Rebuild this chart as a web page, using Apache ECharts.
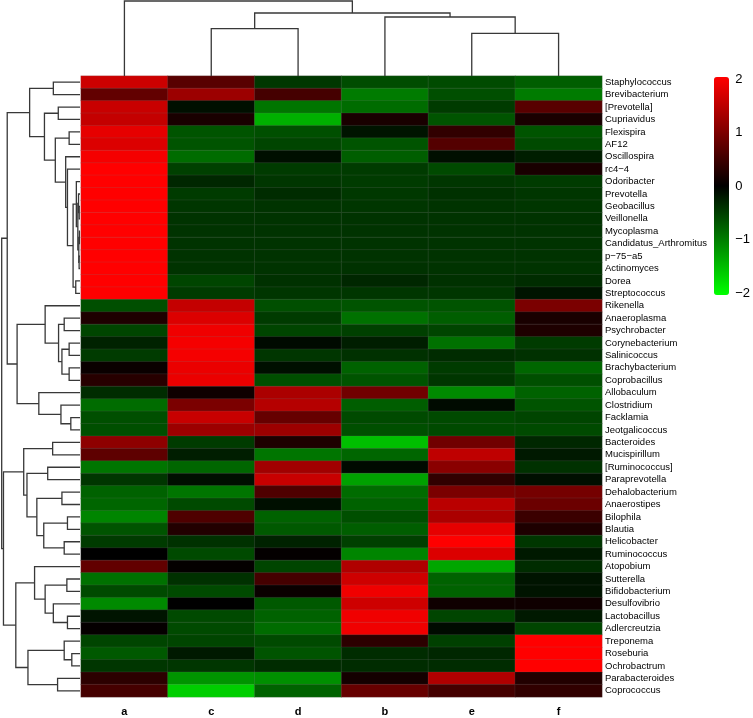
<!DOCTYPE html>
<html><head><meta charset="utf-8">
<script src="https://cdn.jsdelivr.net/npm/echarts@6/dist/echarts.min.js"></script>
<style>html,body{margin:0;padding:0;background:#fff}#c{width:753px;height:718px}</style>
</head><body><div id="c"></div><script>
const rowNames = ['Staphylococcus','Brevibacterium','[Prevotella]','Cupriavidus','Flexispira','AF12','Oscillospira','rc4\u22124','Odoribacter','Prevotella','Geobacillus','Veillonella','Mycoplasma','Candidatus_Arthromitus','p\u221275\u2212a5','Actinomyces','Dorea','Streptococcus','Rikenella','Anaeroplasma','Psychrobacter','Corynebacterium','Salinicoccus','Brachybacterium','Coprobacillus','Allobaculum','Clostridium','Facklamia','Jeotgalicoccus','Bacteroides','Mucispirillum','[Ruminococcus]','Paraprevotella','Dehalobacterium','Anaerostipes','Bilophila','Blautia','Helicobacter','Ruminococcus','Atopobium','Sutterella','Bifidobacterium','Desulfovibrio','Lactobacillus','Adlercreutzia','Treponema','Roseburia','Ochrobactrum','Parabacteroides','Coprococcus'];
const colNames = ['a','c','d','b','e','f'];
const cellValues = [
 [1.63,0.70,-0.44,-0.61,-0.60,-0.75],
 [0.78,1.25,0.55,-0.98,-0.63,-0.98],
 [1.60,-0.12,-0.94,-0.86,-0.47,0.70],
 [1.57,0.20,-1.41,0.20,-0.67,0.20],
 [1.84,-0.67,-0.63,-0.16,0.39,-0.67],
 [1.76,-0.67,-0.55,-0.67,0.67,-0.59],
 [1.96,-0.86,-0.12,-0.75,-0.12,-0.24],
 [2.04,-0.51,-0.47,-0.47,-0.59,0.20],
 [2.04,-0.31,-0.43,-0.47,-0.43,-0.47],
 [2.04,-0.47,-0.35,-0.45,-0.39,-0.43],
 [2.04,-0.43,-0.41,-0.43,-0.41,-0.43],
 [2.04,-0.41,-0.41,-0.41,-0.41,-0.41],
 [2.04,-0.41,-0.41,-0.41,-0.41,-0.41],
 [2.04,-0.41,-0.41,-0.41,-0.41,-0.41],
 [2.04,-0.41,-0.41,-0.41,-0.41,-0.41],
 [2.04,-0.41,-0.41,-0.40,-0.41,-0.41],
 [2.04,-0.55,-0.39,-0.31,-0.39,-0.35],
 [2.04,-0.47,-0.43,-0.43,-0.43,-0.16],
 [-0.63,1.57,-0.63,-0.67,-0.67,0.98],
 [0.24,1.76,-0.47,-0.90,-0.75,0.20],
 [-0.55,1.92,-0.55,-0.51,-0.55,0.24],
 [-0.27,1.96,-0.08,-0.24,-0.90,-0.47],
 [-0.47,1.96,-0.43,-0.39,-0.35,-0.39],
 [0.08,1.88,-0.12,-0.78,-0.47,-0.82],
 [0.31,1.88,-0.63,-0.67,-0.43,-0.63],
 [-0.35,0.12,1.37,0.90,-1.10,-0.78],
 [-0.86,0.98,1.45,-0.75,-0.09,-0.67],
 [-0.63,1.60,0.82,-0.59,-0.59,-0.55],
 [-0.63,1.25,1.25,-0.63,-0.59,-0.59],
 [1.14,-0.47,0.24,-1.53,0.90,-0.31],
 [0.75,-0.24,-0.94,-0.82,1.53,-0.20],
 [-0.94,-0.82,1.29,-0.08,1.10,-0.39],
 [-0.43,-0.12,1.60,-1.29,0.39,-0.12],
 [-0.78,-0.94,0.63,-0.86,0.98,0.94],
 [-0.82,-0.59,-0.12,-0.78,1.49,0.86],
 [-1.06,0.63,-0.78,-0.63,1.37,0.47],
 [-0.67,0.27,-0.71,-0.75,1.84,0.24],
 [-0.47,-0.39,-0.27,-0.51,2.04,-0.43],
 [0.00,-0.59,0.03,-1.06,1.76,-0.20],
 [0.78,0.03,-0.55,1.41,-1.33,-0.35],
 [-0.90,-0.39,0.55,1.65,-0.78,-0.16],
 [-0.59,-0.59,0.08,1.92,-0.78,-0.16],
 [-1.10,0.00,-0.71,1.65,0.12,0.12],
 [-0.16,-0.59,-0.78,1.92,-0.55,-0.20],
 [0.04,-0.59,-0.86,1.92,-0.09,-0.55],
 [-0.55,-0.55,-0.59,0.35,-0.51,2.04],
 [-0.71,-0.20,-0.67,-0.35,-0.31,2.04],
 [-0.43,-0.43,-0.35,-0.35,-0.35,2.04],
 [0.35,-1.18,-1.14,0.16,1.41,0.27],
 [0.55,-1.65,-0.78,0.82,0.55,0.39]
];
const legendTicks = [-2, -1, 0, 1, 2];

// Row clustering tree: node = [left, right, mergeHeight]; leaves = row indices
const treeTop = [[0,1,27],[[2,3,22],[[4,5,11],[6,[7,[[8,[[9,[10,11,0.8],1.5],[[12,13,0.6],[14,15,0.9],1.2],2.2],3.7],[16,17,4.3],7],12.7],14.5],25],36],51];
const treeMid = [[18,[[19,20,16],[[21,22,11],[23,24,11],18.3],21.7],35.3],[25,[26,[27,28,9.3],19.3],41.7],63.7];
const treeP = [[29,30,27.7],[[31,32,32.7],[[33,34,18.3],[[35,36,12.7],[37,38,16],36.7],43.7],53.7],57];
const treeQ = [[39,[[40,41,13.3],[42,[43,44,12.7],27],35.3],46],[[45,[46,47,8.3],16],[48,49,22.7],52.7],65];
const rowTree = [[treeTop, treeMid, 73.7], [treeP, treeQ, 77.5], 79.3];
// Column clustering tree (columns in display order)
const colTree = [0, [[1,2,47.3],[3,[4,5,42.6],59],63], 75];

function walk(node, out) {
  if (typeof node === 'number') return {pos: node + 0.5, h: 0};
  const L = walk(node[0], out), R = walk(node[1], out), h = node[2];
  out.push([L.pos, L.h, R.pos, R.h, h]);
  return {pos: (L.pos + R.pos) / 2, h: h};
}
const rowSegs = []; walk(rowTree, rowSegs);
const colSegs = []; walk(colTree, colSegs);

const heatData = [];
cellValues.forEach((row, r) => row.forEach((v, c) => heatData.push([c, r, v])));

function dendro(orient) {
  return function (params, api) {
    const pl = api.value(0), hl = api.value(1), pr = api.value(2), hr = api.value(3), h = api.value(4);
    const pts = orient === 'left'
      ? [[hl, pl], [h, pl], [h, pr], [hr, pr]]
      : [[pl, hl], [pl, h], [pr, h], [pr, hr]];
    return {type: 'polyline', shape: {points: pts.map(p => api.coord(p))},
      style: {stroke: '#383838', lineWidth: 1.3, fill: null}};
  };
}
const minus = v => (v < 0 ? '\u2212' + (-v) : String(v));
const FONT = 'Liberation Sans, Arial, sans-serif';

const chart = echarts.init(document.getElementById('c'), null, {renderer: 'canvas'});
chart.setOption({
  animation: false,
  backgroundColor: '#fff',
  textStyle: {fontFamily: FONT},
  grid: [
    {left: 81, top: 76, width: 521, height: 621},
    {left: 1, top: 76, width: 79, height: 621},
    {left: 81, top: 0, width: 521, height: 76},
    {left: 729, top: 79, width: 1, height: 214}
  ],
  xAxis: [
    {gridIndex: 0, type: 'category', data: colNames, position: 'bottom',
     axisLine: {show: false}, axisTick: {show: false}, splitLine: {show: false},
     axisLabel: {fontSize: 11, fontWeight: 'bold', color: '#000', margin: 9, fontFamily: FONT}},
    {gridIndex: 1, type: 'value', min: 0, max: 80, inverse: true, show: false},
    {gridIndex: 2, type: 'value', min: 0, max: 6, show: false},
    {gridIndex: 3, type: 'value', min: 0, max: 1, show: false}
  ],
  yAxis: [
    {gridIndex: 0, type: 'category', data: rowNames, inverse: true, position: 'right',
     axisLine: {show: false}, axisTick: {show: false}, splitLine: {show: false},
     axisLabel: {fontSize: 9.5, color: '#000', margin: 3, fontFamily: FONT, interval: 0}},
    {gridIndex: 1, type: 'value', min: 0, max: 50, inverse: true, show: false},
    {gridIndex: 2, type: 'value', min: 0, max: 76, show: false},
    {gridIndex: 3, type: 'value', min: legendTicks[0], max: legendTicks[legendTicks.length - 1], interval: 1,
     position: 'right', axisLine: {show: false}, axisTick: {show: false}, splitLine: {show: false},
     axisLabel: {fontSize: 13, color: '#000', margin: 6, fontFamily: FONT, formatter: minus}}
  ],
  visualMap: {
    type: 'continuous', seriesIndex: 0, min: -2.04, max: 2.04, calculable: false,
    orient: 'vertical', left: 714, top: 77, itemWidth: 15, itemHeight: 218, padding: 0,
    hoverLink: false, text: null, showLabel: false,
    inRange: {color: ['#00ff00', '#000000', '#ff0000']}
  },
  series: [
    {type: 'heatmap', xAxisIndex: 0, yAxisIndex: 0, data: heatData,
     itemStyle: {borderColor: 'rgba(120,120,120,0.35)', borderWidth: 0.5},
     emphasis: {disabled: true}},
    {type: 'custom', xAxisIndex: 1, yAxisIndex: 1, data: rowSegs, silent: true,
     encode: {x: [1, 3, 4], y: [0, 2]}, renderItem: dendro('left')},
    {type: 'custom', xAxisIndex: 2, yAxisIndex: 2, data: colSegs, silent: true,
     encode: {x: [0, 2], y: [1, 3, 4]}, renderItem: dendro('top')},
    {type: 'scatter', xAxisIndex: 3, yAxisIndex: 3, data: [], silent: true}
  ]
});
</script></body></html>
